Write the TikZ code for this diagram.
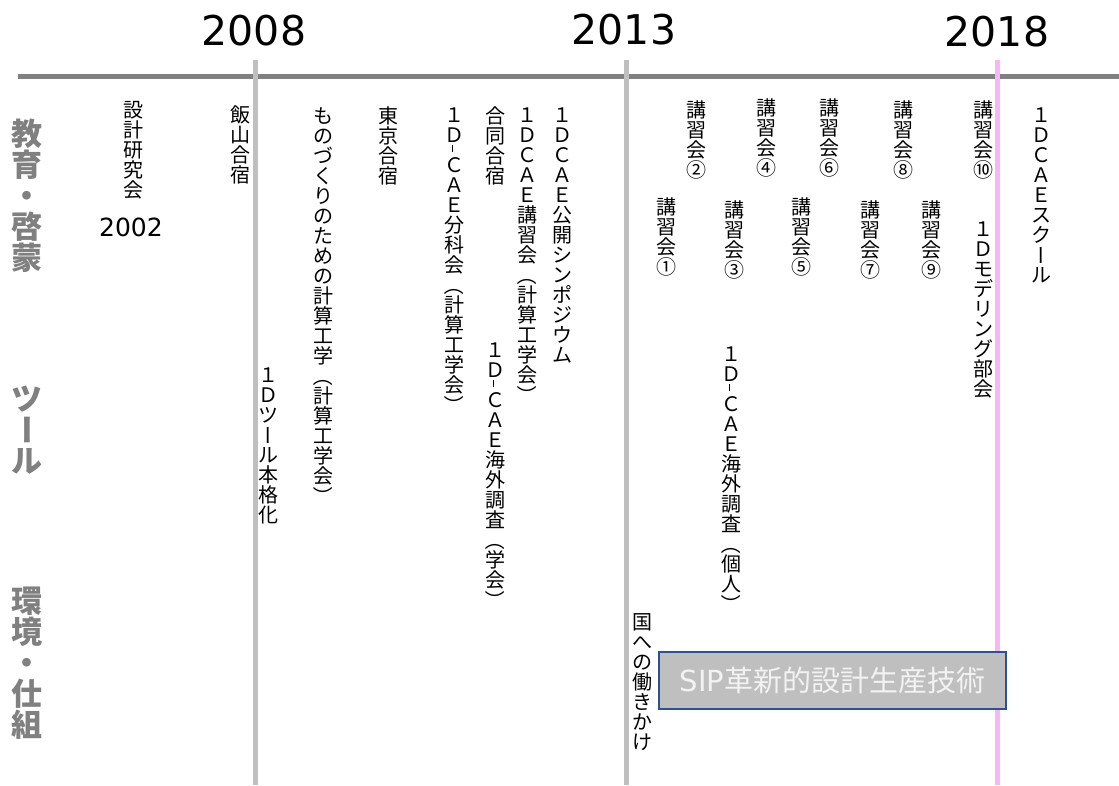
\documentclass[tikz,border=0pt]{standalone}
\usepackage{fontspec}
\setmainfont{Noto Sans CJK JP}
\newfontfamily\lat{DejaVu Sans}
\definecolor{axisgrey}{RGB}{128,128,128}
\definecolor{linegrey}{RGB}{191,191,191}
\definecolor{linepink}{RGB}{249,182,246}
\definecolor{boxblue}{RGB}{47,82,143}
\definecolor{boxfill}{RGB}{191,191,191}
\definecolor{boxtext}{RGB}{242,242,242}
\makeatletter
\def\vt@end{\vt@end}
\def\vhy{\vhy}
\newcommand\vtext[1]{\vbox{\offinterlineskip\vt@loop#1\vt@end}}
\def\vt@loop#1{%
  \ifx\vt@end#1\else
    \ifx\vhy#1\vt@half\else\vt@cell{#1}\fi
    \expandafter\vt@loop
  \fi}
\def\vt@cell#1{\hbox to 1em{\hss\vrule height .88em depth .12em width 0pt\smash{#1}\hss}}
\def\vt@half{\hbox to 1em{\hskip .4em\raise .15em\hbox{\vrule width .05em height .35em depth 0pt}\hss}}
\newcommand\vrot[1]{\raise.88em\hbox{\rotatebox{-90}{\hbox to 1em{\hss\vrule height .88em depth .12em width 0pt #1\hss}}}}
\makeatother
\tikzset{
  vt/.style={inner sep=0pt, anchor=north, font=\fontsize{15pt}{15pt}\selectfont},
  lbl/.style={inner sep=0pt, anchor=north, text=axisgrey, font=\fontsize{23.25pt}{23.25pt}\selectfont\bfseries},
  year/.style={inner sep=0pt, font=\lat\fontsize{30.75pt}{30.75pt}\selectfont},
  axisline/.style={draw=axisgrey, line width=3.75pt},
  yearline/.style={draw=linegrey, line width=3.75pt},
  nowline/.style={draw=linepink, line width=3.75pt},
}
\begin{document}
\begin{tikzpicture}[x=0.75pt, y=-0.75pt]
\fill[white] (0,0) rectangle (1119,785);
\useasboundingbox (0,0) rectangle (1119,785);
% axes
\coordinate (h0) at (18,76.5);
\coordinate (h1) at (1119,76.5);
\draw[axisline] (h0) -- (h1);
\coordinate (a0) at (255.5,60); \coordinate (a1) at (255.5,785);
\coordinate (b0) at (626,60);   \coordinate (b1) at (626,785);
\coordinate (c0) at (997.5,60); \coordinate (c1) at (997.5,785);
\draw[yearline] (a0) -- (a1);
\draw[yearline] (b0) -- (b1);
\draw[nowline] (c0) -- (c1);
% years
\node[year] (y2008) at (254,31) {2008};
\node[year] (y2013) at (624,30) {2013};
\node[year] (y2018) at (997,32) {2018};
% row labels
\node[lbl] (l1) at (27,118) {\vtext{教育・啓蒙}};
\node[lbl] (l2) at (27,383) {\vtext{ツ{\vrot{ー}}ル}};
\node[lbl] (l3) at (27,585) {\vtext{環境・仕組}};
% events
\node[vt] (e1) at (133,100) {\vtext{設計研究会}};
\node[inner sep=0pt, font=\lat\fontsize{18.75pt}{18.75pt}\selectfont] (e1y) at (131,227) {2002};
\node[vt] (e2) at (240,105) {\vtext{飯山合宿}};
\node[vt] (e3) at (268,365) {\vtext{１Ｄツ{\vrot{ー}}ル本格化}};
\node[vt] (e4) at (323,106) {\vtext{ものづくりのための計算工学{\vrot{（}}計算工学会{\vrot{）}}}};
\node[vt] (e5) at (388,106) {\vtext{東京合宿}};
\node[vt] (e6) at (454,105) {\vtext{１Ｄ\vhy ＣＡＥ分科会{\vrot{（}}計算工学会{\vrot{）}}}};
\node[vt] (e7) at (495,106) {\vtext{合同合宿}};
\node[vt] (e8) at (495,340) {\vtext{１Ｄ\vhy ＣＡＥ海外調査{\vrot{（}}学会{\vrot{）}}}};
\node[vt] (e9) at (527,105) {\vtext{１ＤＣＡＥ講習会{\vrot{（}}計算工学会{\vrot{）}}}};
\node[vt] (e10) at (562,105) {\vtext{１ＤＣＡＥ公開シンポジウム}};
% lectures
\node[vt] (k1) at (666,197) {\vtext{講習会①}};
\node[vt] (k2) at (696,100) {\vtext{講習会②}};
\node[vt] (k3) at (734,200) {\vtext{講習会③}};
\node[vt] (k4) at (766,98) {\vtext{講習会④}};
\node[vt] (k5) at (801,197) {\vtext{講習会⑤}};
\node[vt] (k6) at (829,98) {\vtext{講習会⑥}};
\node[vt] (k7) at (870,200) {\vtext{講習会⑦}};
\node[vt] (k8) at (903,100) {\vtext{講習会⑧}};
\node[vt] (k9) at (931,200) {\vtext{講習会⑨}};
\node[vt] (k10) at (983,100) {\vtext{講習会⑩}};
\node[vt] (e11) at (983,219) {\vtext{１Ｄモデリング部会}};
\node[vt] (e12) at (1041,105) {\vtext{１ＤＣＡＥスク{\vrot{ー}}ル}};
\node[vt] (e13) at (731,344) {\vtext{１Ｄ\vhy ＣＡＥ海外調査{\vrot{（}}個人{\vrot{）}}}};
\node[vt] (e14) at (642,612) {\vtext{国への働きかけ}};
% SIP box
\node[draw=boxblue, fill=boxfill, line width=1.1pt, minimum width=260.25pt, minimum height=42.75pt, inner sep=0pt, text=boxtext, font=\fontsize{21.75pt}{21.75pt}\selectfont] (sip) at (832.5,680.5) {{\lat SIP}革新的設計生産技術};
\end{tikzpicture}
\end{document}
